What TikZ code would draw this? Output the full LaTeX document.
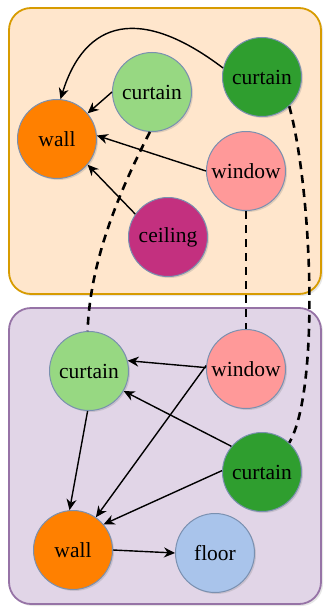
\documentclass[tikz,border=0pt]{standalone}
\usepackage{fontspec}
\setmainfont{Liberation Serif}
\usetikzlibrary{arrows.meta,shadows}
\definecolor{topfill}{HTML}{FFE6CC}
\definecolor{topdraw}{HTML}{D79B00}
\definecolor{botfill}{HTML}{E1D5E7}
\definecolor{botdraw}{HTML}{9673A6}
\definecolor{nodeedge}{HTML}{7A90B0}
\definecolor{wallc}{HTML}{FF8000}
\definecolor{lightcur}{HTML}{97D882}
\definecolor{darkcur}{HTML}{2F9E2F}
\definecolor{windowc}{HTML}{FF9999}
\definecolor{ceilc}{HTML}{C3307F}
\definecolor{floorc}{HTML}{A9C4EB}
\tikzset{
  obj/.style={circle, draw=nodeedge, line width=1pt, minimum size=79pt, inner sep=0pt,
    font=\fontsize{21.5}{25}\selectfont,
    drop shadow={shadow xshift=1.5pt, shadow yshift=-1.5pt, opacity=0.25}},
  room/.style={rounded corners=22pt, line width=1.8pt,
    drop shadow={shadow xshift=2pt, shadow yshift=-2pt, opacity=0.2}},
  rel/.style={line width=1.4pt, -{Stealth[length=11pt,width=10pt]}},
  link/.style={line width=2.6pt, dash pattern=on 8pt off 6pt},
}
\begin{document}
\begin{tikzpicture}[x=1pt, y=-1pt]
\useasboundingbox (0,0) rectangle (324,610);
% two rooms
\path[room, fill=topfill, draw=topdraw] (9,8) rectangle (321,294);
\path[room, fill=botfill, draw=botdraw] (9,308) rectangle (321,604);
% upper scene
\node[obj, fill=wallc] (wA) at (57,139) {wall};
\node[obj, fill=lightcur] (lcA) at (152,92) {curtain};
\node[obj, fill=darkcur] (dcA) at (262,77) {curtain};
\node[obj, fill=windowc] (wiA) at (246,171) {window};
\node[obj, fill=ceilc] (ceA) at (168,237) {ceiling};
% lower scene
\node[obj, fill=lightcur] (lcB) at (89,371) {curtain};
\node[obj, fill=windowc] (wiB) at (246,369) {window};
\node[obj, fill=darkcur] (dcB) at (262,472) {curtain};
\node[obj, fill=wallc] (wB) at (73,550) {wall};
\node[obj, fill=floorc] (flB) at (215,553) {floor};
% upper relations
\draw[rel] (dcA.167) .. controls (140,5) and (85,20) .. (wA.85);
\draw[rel] (lcA.180) -- (wA.40);
\draw[rel] (wiA.180) -- (wA.5);
\draw[rel] (ceA.145) -- (wA.-40);
% lower relations
\draw[rel] (wiB.178) -- (lcB.15);
\draw[rel] (wiB.175) -- (wB.55);
\draw[rel] (dcB.140) -- (lcB.-30);
\draw[rel] (dcB.178) -- (wB.40);
\draw[rel] (lcB.-92) -- (wB.95);
\draw[rel] (wB.0) -- (flB.180);
% correspondences between the scenes
\draw[link] (lcA.267) .. controls (120,190) and (90,260) .. (lcB.92);
\draw[link] (wiA.south) -- (wiB.north);
\draw[link] (dcA.-47) .. controls (312,190) and (320,390) .. (dcB.47);
\end{tikzpicture}
\end{document}
